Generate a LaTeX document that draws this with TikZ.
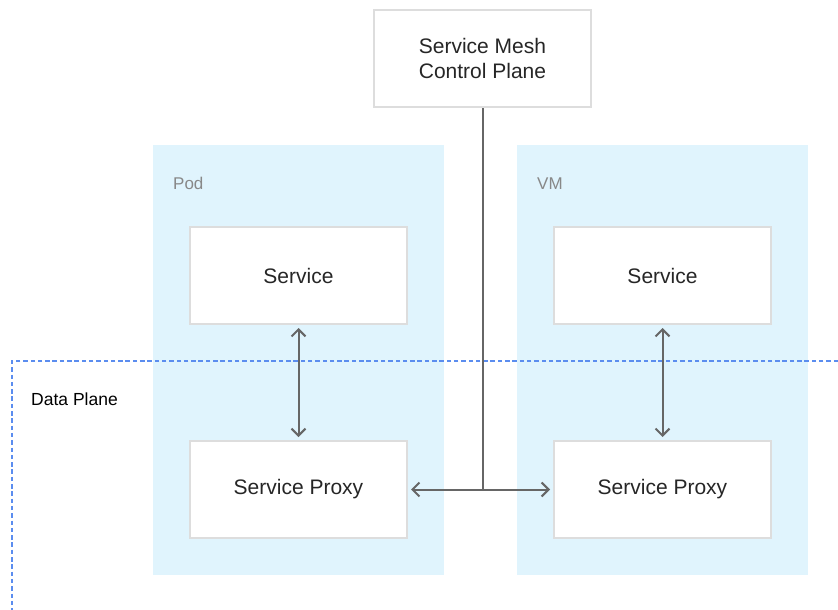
\documentclass[tikz,border=0pt]{standalone}
\usepackage{fontspec}
\setmainfont{Liberation Sans}
\usetikzlibrary{arrows.meta}
\definecolor{hostfill}{HTML}{E0F4FD}
\definecolor{boxline}{HTML}{DDDDDD}
\definecolor{linkgray}{HTML}{666666}
\definecolor{labelgray}{HTML}{888888}
\definecolor{planeblue}{HTML}{5B8DEF}
\tikzset{
  host/.style={fill=hostfill, draw=none},
  svcbox/.style={draw=boxline, line width=2pt, fill=white, minimum width=217pt, minimum height=97pt, inner sep=0pt, font=\fontsize{21}{25}\selectfont, text=black!85},
  hostlabel/.style={anchor=base west, text=labelgray, font=\fontsize{17}{20}\selectfont, inner sep=0pt},
  link/.style={draw=linkgray, line width=2pt},
  biarrow/.style={link, {Straight Barb[length=7pt,width=14pt]}-{Straight Barb[length=7pt,width=14pt]}, shorten <=3pt, shorten >=3pt},
  plane/.style={draw=planeblue, line width=2pt, dash pattern=on 4.5pt off 2.8pt}
}
\begin{document}
\begin{tikzpicture}[x=1pt,y=-1pt]
\useasboundingbox (0,0) rectangle (838,610);

% hosts
\fill[host] (153,145) rectangle (444,575);
\fill[host] (517,145) rectangle (808,575);
\node[hostlabel] (podlbl) at (173,189) {Pod};
\node[hostlabel] (vmlbl) at (537,189) {VM};

% data plane boundary
\coordinate (dpR) at (838,361);
\coordinate (dpC) at (12,361);
\coordinate (dpB) at (12,610);
\draw[plane] (dpR) -- (dpC) -- (dpB);
\node[anchor=base west, inner sep=0pt, font=\fontsize{17.5}{20}\selectfont] (dplbl) at (31,405) {Data Plane};

% control plane
\node[svcbox, align=center] (cp) at (482.5,58.5) {Service Mesh\\Control Plane};

% services and proxies
\node[svcbox] (svcL) at (298.5,275.5) {Service};
\node[svcbox] (svcR) at (662.5,275.5) {Service};
\node[svcbox] (pxL) at (298.5,489.5) {Service Proxy};
\node[svcbox] (pxR) at (662.5,489.5) {Service Proxy};

% connectors
\coordinate (junction) at (482.5,489.5);
\draw[link] (cp.south) -- (junction);
\draw[biarrow] (pxL.east) -- (pxR.west);
\draw[biarrow] (svcL.south) -- (pxL.north);
\draw[biarrow] (svcR.south) -- (pxR.north);
\end{tikzpicture}
\end{document}
